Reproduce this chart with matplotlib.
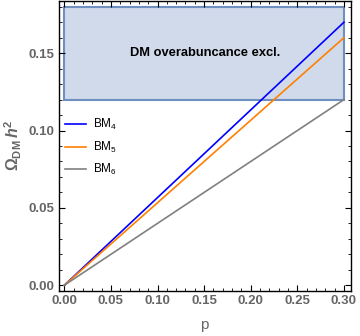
import matplotlib
matplotlib.use("Agg")
import matplotlib.pyplot as plt
import numpy as np
from matplotlib.patches import Rectangle
from matplotlib.ticker import MultipleLocator

plt.rcParams['font.family'] = ['Liberation Sans', 'DejaVu Sans']
plt.rcParams['mathtext.fontset'] = 'custom'
plt.rcParams['mathtext.rm'] = 'Liberation Sans'
plt.rcParams['mathtext.it'] = 'Liberation Sans:italic'
plt.rcParams['mathtext.bf'] = 'Liberation Sans:bold'
plt.rcParams['mathtext.bfit'] = 'Liberation Sans:italic:bold'

# data
p_vals = [0.0, 0.3]
series_names = ["BM$_4$", "BM$_5$", "BM$_6$"]
series_values = [[0.0, 0.170], [0.0, 0.160], [0.0, 0.120]]
series_colors = ["#0000ff", "#ff8000", "#808080"]
excl_low, excl_high = 0.12, 0.180
excl_p = [0.0, 0.3]
x_ticks = [0.00, 0.05, 0.10, 0.15, 0.20, 0.25, 0.30]
y_ticks = [0.00, 0.05, 0.10, 0.15]

fig = plt.figure(figsize=(3.6, 3.36), dpi=100)
ax = fig.add_axes([58.5/360, 45/336, (350.7-58.5)/360, (291-1)/336])

ax.add_patch(Rectangle((excl_p[0], excl_low), excl_p[1]-excl_p[0], excl_high-excl_low,
                       facecolor="#d0daea", edgecolor="#6f8fc0", linewidth=1.5, zorder=1))
ax.text(0.151, 0.150, "DM overabuncance excl.", ha="center", va="center",
        fontsize=9.3, fontweight="bold", color="black", zorder=3)

handles = []
for name, vals, c in zip(series_names, series_values, series_colors):
    h, = ax.plot(p_vals, vals, color=c, lw=1.2, label=name, zorder=2)
    handles.append(h)

leg = ax.legend(handles=handles, loc="upper left", bbox_to_anchor=(0.005, 0.615),
                frameon=False, fontsize=8.5, handlelength=1.8, handletextpad=0.6,
                labelspacing=0.62, borderaxespad=0.0)

ax.set_xlim(-0.0062, 0.3072)
ax.set_ylim(-0.0037, 0.1837)
ax.set_xticks(x_ticks)
ax.set_yticks(y_ticks)
ax.set_xticklabels([f"{v:.2f}" for v in x_ticks], fontweight="bold")
ax.set_yticklabels([f"{v:.2f}" for v in y_ticks], fontweight="bold")
ax.xaxis.set_minor_locator(MultipleLocator(0.01))
ax.yaxis.set_minor_locator(MultipleLocator(0.01))
ax.tick_params(which="both", direction="in", top=True, right=True,
               labelsize=9.5, labelcolor="#666666", pad=3)
ax.tick_params(which="major", length=4, width=0.8)
ax.tick_params(which="minor", length=2.2, width=0.6)
for s in ax.spines.values():
    s.set_linewidth(1.0)

ax.set_xlabel("p", fontsize=11, color="#666666", labelpad=8)
ax.set_ylabel(r"$\mathbf{\Omega_{DM}}\,\boldsymbol{h}^\mathbf{2}$", fontsize=11.5,
              color="#666666", labelpad=3)

fig.savefig("out.png", dpi=100)
